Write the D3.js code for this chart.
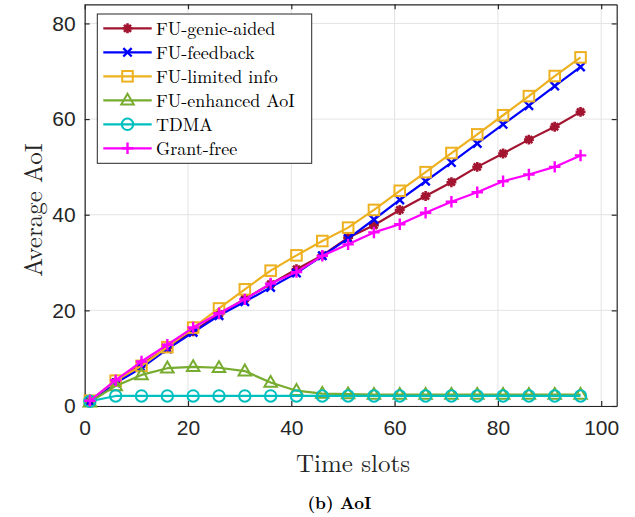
<!DOCTYPE html>
<html><head><meta charset="utf-8">
<script src="https://cdn.jsdelivr.net/npm/d3@7"></script>
<style>body{margin:0;background:#fff}svg{display:block}</style>
</head><body>
<svg id="chart" width="635" height="517"></svg>
<script>
const timeSlots = [1,6,11,16,21,26,31,36,41,46,51,56,61,66,71,76,81,86,91,96];
const genieAided   = [1.0,5.0,8.7,12.2,15.6,19.2,22.4,25.5,28.6,31.5,35.2,37.8,41.0,43.9,46.8,50.0,52.8,55.7,58.4,61.5];
const feedback     = [1.0,4.8,8.0,11.9,15.4,18.9,21.8,24.8,27.8,31.4,35.0,39.0,43.1,47.0,50.9,54.9,58.9,62.8,66.9,70.9];
const limitedInfo  = [1.1,5.3,8.4,12.3,16.4,20.4,24.4,28.3,31.5,34.5,37.3,41.0,45.0,48.9,52.9,56.8,60.8,64.8,69.0,72.9];
const enhancedAoI  = [0.8,4.2,6.5,7.9,8.2,8.0,7.3,4.9,3.2,2.6,2.5,2.4,2.4,2.4,2.4,2.4,2.4,2.4,2.4,2.4];
const tdma         = [1.0,2.1,2.1,2.1,2.1,2.1,2.1,2.1,2.1,2.1,2.1,2.1,2.1,2.1,2.1,2.1,2.1,2.1,2.1,2.1];
const grantFree    = [1.1,5.4,9.3,12.8,16.4,19.4,22.3,25.6,28.0,31.4,33.8,36.3,38.0,40.4,42.7,44.7,47.0,48.4,50.0,52.4];
const seriesNames  = ["FU-genie-aided","FU-feedback","FU-limited info","FU-enhanced AoI","TDMA","Grant-free"];
const xTicks = [0,20,40,60,80,100];
const yTicks = [0,20,40,60,80];

const seriesValues = [genieAided, feedback, limitedInfo, enhancedAoI, tdma, grantFree];
const colors = ["#A2142F","#0000FF","#EDB120","#77AC30","#00BFBF","#FF00FF"];
const markers = ["star","x","square","triangle","circle","plus"];

const svg = d3.select("#chart");
const L = 84.7, R = 616.7, T = 4.3, B = 406;
const x = d3.scaleLinear().domain([0,103]).range([L,R]);
const y = d3.scaleLinear().domain([0,84]).range([B,T]);
const axisColor = "#262626";

// grid
const grid = svg.append("g");
grid.selectAll(".gx").data(xTicks).join("line")
  .attr("x1",d=>x(d)).attr("x2",d=>x(d)).attr("y1",T).attr("y2",B)
  .attr("stroke","#e3e3e3").attr("stroke-width",1);
grid.selectAll(".gy").data(yTicks).join("line")
  .attr("x1",L).attr("x2",R).attr("y1",d=>y(d)).attr("y2",d=>y(d))
  .attr("stroke","#e3e3e3").attr("stroke-width",1);

// axes
const tickFont = "'Liberation Sans', Arial, sans-serif";
const xAxis = svg.append("g").attr("transform",`translate(0,${B})`)
  .call(d3.axisBottom(x).tickValues(xTicks).tickSizeInner(-5).tickSizeOuter(0).tickPadding(14));
const yAxis = svg.append("g").attr("transform",`translate(${L},0)`)
  .call(d3.axisLeft(y).tickValues(yTicks).tickSizeInner(-5).tickSizeOuter(0).tickPadding(9));
const xAxisTop = svg.append("g").attr("transform",`translate(0,${T})`)
  .call(d3.axisTop(x).tickValues(xTicks).tickSizeInner(-5).tickSizeOuter(0).tickFormat(""));
const yAxisRight = svg.append("g").attr("transform",`translate(${R},0)`)
  .call(d3.axisRight(y).tickValues(yTicks).tickSizeInner(-5).tickSizeOuter(0).tickFormat(""));
[xAxis,yAxis,xAxisTop,yAxisRight].forEach(a=>{
  a.select(".domain").attr("stroke",axisColor).attr("stroke-width",1.2);
  a.selectAll(".tick line").attr("stroke",axisColor).attr("stroke-width",1.2);
  a.selectAll(".tick text").attr("fill",axisColor).attr("font-family",tickFont).attr("font-size",21);
});
xAxis.selectAll(".tick").filter(d=>d===0).select("line").remove();
yAxis.selectAll(".tick").filter(d=>d===0).select("line").remove();

// marker drawing
function drawMarker(g, type, color, size) {
  const s = size;
  if (type === "circle") {
    g.append("circle").attr("r",s*0.52).attr("fill","none").attr("stroke",color).attr("stroke-width",2);
  } else if (type === "square") {
    g.append("rect").attr("x",-s*0.48).attr("y",-s*0.48).attr("width",s*0.96).attr("height",s*0.96)
      .attr("fill","none").attr("stroke",color).attr("stroke-width",2);
  } else if (type === "triangle") {
    const h = s*0.6;
    g.append("path").attr("d",`M0,${-h} L${h*0.95},${h*0.65} L${-h*0.95},${h*0.65} Z`)
      .attr("fill","none").attr("stroke",color).attr("stroke-width",2);
  } else if (type === "x") {
    const h = s*0.38;
    g.append("path").attr("d",`M${-h},${-h}L${h},${h}M${-h},${h}L${h},${-h}`)
      .attr("stroke",color).attr("stroke-width",2.4);
  } else if (type === "plus") {
    const h = s*0.52;
    g.append("path").attr("d",`M${-h},0L${h},0M0,${-h}L0,${h}`)
      .attr("stroke",color).attr("stroke-width",2.4);
  } else if (type === "star") {
    const h = s*0.45;
    let d = "";
    for (let i=0;i<4;i++){const a=i*Math.PI/4; d+=`M${-h*Math.cos(a)},${-h*Math.sin(a)}L${h*Math.cos(a)},${h*Math.sin(a)}`;}
    g.append("path").attr("d",d).attr("stroke",color).attr("stroke-width",2.6);
  }
}

const line = d3.line().x((d,i)=>x(timeSlots[i])).y(d=>y(d));
const plot = svg.append("g");
seriesValues.forEach((vals,k)=>{
  const g = plot.append("g");
  g.append("path").datum(vals).attr("d",line).attr("fill","none")
    .attr("stroke",colors[k]).attr("stroke-width",2.2).attr("stroke-linejoin","round");
  vals.forEach((v,i)=>{
    const mg = g.append("g").attr("transform",`translate(${x(timeSlots[i])},${y(v)})`);
    drawMarker(mg, markers[k], colors[k], 11);
  });
});

// legend
const serif = "'Latin Modern Roman','CMU Serif','Liberation Serif','DejaVu Serif',serif";
const lg = svg.append("g");
lg.append("rect").attr("x",97.3).attr("y",14).attr("width",214.4).attr("height",149.3)
  .attr("fill","#fff").attr("stroke",axisColor).attr("stroke-width",1);
seriesNames.forEach((name,k)=>{
  const yy = 28.3 + k*24;
  lg.append("line").attr("x1",103.3).attr("x2",151.7).attr("y1",yy).attr("y2",yy)
    .attr("stroke",colors[k]).attr("stroke-width",2.2);
  const mg = lg.append("g").attr("transform",`translate(127.5,${yy})`);
  drawMarker(mg, markers[k], colors[k], 11);
  lg.append("text").attr("x",156).attr("y",yy).attr("dy","0.35em")
    .attr("font-family",serif).attr("font-size",18).attr("fill","#000").text(name);
});

// axis labels
svg.append("text").attr("x",353).attr("y",463).attr("dy","0.35em").attr("text-anchor","middle")
  .attr("font-family",serif).attr("font-size",25).attr("fill","#262626").text("Time slots");
svg.append("text").attr("transform","translate(33,210) rotate(-90)").attr("dy","0.35em").attr("text-anchor","middle")
  .attr("font-family",serif).attr("font-size",25).attr("fill","#262626").text("Average AoI");
svg.append("text").attr("x",339.5).attr("y",503).attr("dy","0.35em").attr("text-anchor","middle")
  .attr("font-family",serif).attr("font-weight","bold").attr("font-size",17)
  .attr("textLength",64).attr("lengthAdjust","spacingAndGlyphs").attr("fill","#000").text("(b) AoI");
</script>
</body></html>
